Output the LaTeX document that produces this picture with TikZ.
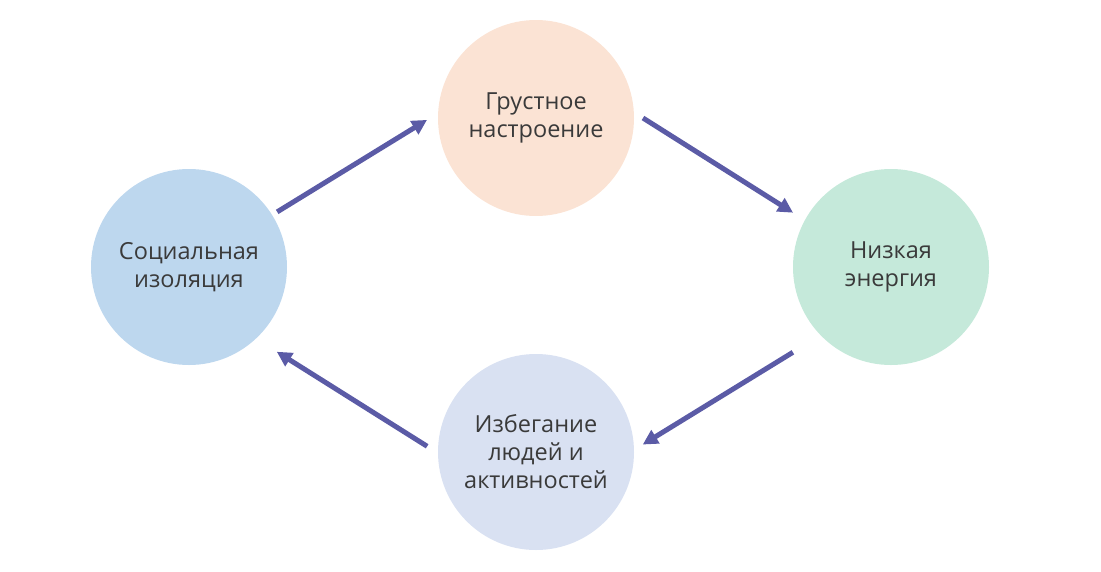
\documentclass[tikz,border=0pt]{standalone}
\usepackage{fontspec}
\setmainfont{Open Sans}
\usetikzlibrary{arrows.meta, calc}
\definecolor{peach-bg}{HTML}{FBE3D4}
\definecolor{sky-bg}{HTML}{BDD7EE}
\definecolor{mint-bg}{HTML}{C5E9DA}
\definecolor{lilac-bg}{HTML}{D9E1F2}
\definecolor{flow-blue}{HTML}{5B5BA6}
\definecolor{label-grey}{HTML}{3A3A3A}

\begin{document}
\begin{tikzpicture}[x=1pt, y=-1pt,
    stage/.style={circle, minimum size=196pt, inner sep=0pt, align=center,
                  text=label-grey, font=\fontsize{23.5}{28}\selectfont},
    flow/.style={line width=5pt, color=flow-blue,
                 -{Triangle[length=15pt, width=15pt]}}]
    % Diagram: a loop of four states, clockwise.
    % Coordinates: pixels from the top left corner (y runs down)
    %   sad mood at (536,118), energy at (891,267)
    %   avoidance at (536,450), isolation at (189,267), all r=98
    \useasboundingbox (0,0) rectangle (1101,571);
    \node[stage, fill=peach-bg] (sad) at (536,118) {Грустное\\настроение};
    \node[stage, fill=mint-bg] (energy) at (891,267) {Низкая\\энергия};
    \node[stage, fill=lilac-bg] (avoid) at (536,452) {Избегание\\людей и\\активностей};
    \node[stage, fill=sky-bg] (iso) at (189,267) {Социальная\\изоляция};
    % arrows stop short of the circles
    \draw[flow] ($(iso.center)+(32:104pt)$) -- ($(sad.center)+(181:109pt)$);
    \draw[flow] ($(sad.center)+(0:107pt)$) -- ($(energy.center)+(151:112pt)$);
    \draw[flow] ($(energy.center)+(221:130pt)$) -- ($(avoid.center)+(4:107pt)$);
    \draw[flow] ($(avoid.center)+(177:109pt)$) -- ($(iso.center)+(-44:122pt)$);
\end{tikzpicture}
\end{document}
